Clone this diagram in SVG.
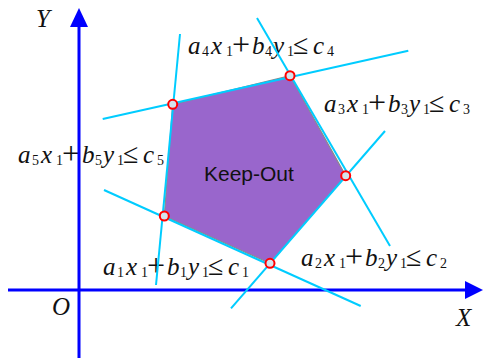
<svg xmlns="http://www.w3.org/2000/svg" width="483" height="358" viewBox="0 0 483 358">
<style>
.m{font-family:"Liberation Serif","Times New Roman",serif;font-size:25px;font-style:italic;fill:#111}
.s{font-style:normal;font-size:14px}
.p{font-style:normal;font-size:32px}
.le{font-style:normal;font-size:28px}
.ax{font-family:"Liberation Serif","Times New Roman",serif;font-size:25px;font-style:italic;fill:#111}
.cy{stroke:#00ccff;stroke-width:2;fill:none;stroke-linecap:butt}
.axis{stroke:#0000ff;stroke-width:3;fill:none}
.arw{fill:#0000ff}
.v{fill:#d4e2ec;stroke:#ff0000;stroke-width:2}
</style>
<rect width="483" height="358" fill="#ffffff"/>
<g id="labels">
<g id="label4" transform="translate(188,54)">
<text class="m"><tspan x="0" y="0">a</tspan><tspan class="s" x="14" y="2">4</tspan><tspan x="23" y="0">x</tspan><tspan class="s" x="38" y="2">1</tspan><tspan class="p" x="44" y="1">+</tspan><tspan x="64" y="0">b</tspan><tspan class="s" x="77" y="2">4</tspan><tspan x="85" y="0">y</tspan><tspan class="s" x="99" y="2">1</tspan><tspan class="le" x="105" y="0">≤</tspan><tspan x="125" y="0">c</tspan><tspan class="s" x="139" y="2">4</tspan></text>
</g>
<g id="label3" transform="translate(324,112)">
<text class="m"><tspan x="0" y="0">a</tspan><tspan class="s" x="14" y="2">3</tspan><tspan x="23" y="0">x</tspan><tspan class="s" x="38" y="2">1</tspan><tspan class="p" x="44" y="1">+</tspan><tspan x="64" y="0">b</tspan><tspan class="s" x="77" y="2">3</tspan><tspan x="85" y="0">y</tspan><tspan class="s" x="99" y="2">1</tspan><tspan class="le" x="105" y="0">≤</tspan><tspan x="125" y="0">c</tspan><tspan class="s" x="139" y="2">3</tspan></text>
</g>
<g id="label5" transform="translate(18,163)">
<text class="m"><tspan x="0" y="0">a</tspan><tspan class="s" x="14" y="2">5</tspan><tspan x="23" y="0">x</tspan><tspan class="s" x="38" y="2">1</tspan><tspan class="p" x="44" y="1">+</tspan><tspan x="64" y="0">b</tspan><tspan class="s" x="77" y="2">5</tspan><tspan x="85" y="0">y</tspan><tspan class="s" x="99" y="2">1</tspan><tspan class="le" x="105" y="0">≤</tspan><tspan x="125" y="0">c</tspan><tspan class="s" x="139" y="2">5</tspan></text>
</g>
<g id="label1" transform="translate(103,275)">
<text class="m"><tspan x="0" y="0">a</tspan><tspan class="s" x="14" y="2">1</tspan><tspan x="23" y="0">x</tspan><tspan class="s" x="38" y="2">1</tspan><tspan class="p" x="44" y="1">+</tspan><tspan x="64" y="0">b</tspan><tspan class="s" x="77" y="2">1</tspan><tspan x="85" y="0">y</tspan><tspan class="s" x="99" y="2">1</tspan><tspan class="le" x="105" y="0">≤</tspan><tspan x="125" y="0">c</tspan><tspan class="s" x="139" y="2">1</tspan></text>
</g>
<g id="label2" transform="translate(301,266)">
<text class="m"><tspan x="0" y="0">a</tspan><tspan class="s" x="14" y="2">2</tspan><tspan x="23" y="0">x</tspan><tspan class="s" x="38" y="2">1</tspan><tspan class="p" x="44" y="1">+</tspan><tspan x="64" y="0">b</tspan><tspan class="s" x="77" y="2">2</tspan><tspan x="85" y="0">y</tspan><tspan class="s" x="99" y="2">1</tspan><tspan class="le" x="105" y="0">≤</tspan><tspan x="125" y="0">c</tspan><tspan class="s" x="139" y="2">2</tspan></text>
</g>
</g>
<g id="keepout">
<polygon points="172.7,104.3 290,75.7 345.7,175.7 270,263.3 164.3,216" fill="#9966cc" stroke="#8a8a8a" stroke-width="1.2"/>
</g>
<g id="connectors">
<line class="axis" x1="79" y1="358" x2="79" y2="25"/>
<polygon class="arw" points="70,27 88,27 79,8"/>
<line class="axis" x1="8" y1="290" x2="467" y2="290"/>
<polygon class="arw" points="465,281 465,299 483,290"/>
<line class="cy" x1="102.7" y1="119" x2="408.3" y2="50.7"/>
<line class="cy" x1="180" y1="34" x2="156" y2="285"/>
<line class="cy" x1="257" y1="18" x2="390" y2="246"/>
<line class="cy" x1="385" y1="131" x2="231" y2="308.3"/>
<line class="cy" x1="104" y1="190" x2="360.7" y2="306"/>
</g>
<g id="keepout-label">
<text x="204" y="181" font-family="Liberation Sans, Arial, sans-serif" font-size="21" fill="#111">Keep-Out</text>
</g>
<g id="vertices">
<circle class="v" cx="172.7" cy="104.3" r="4.5"/>
<circle class="v" cx="290" cy="75.7" r="4.5"/>
<circle class="v" cx="345.7" cy="175.7" r="4.5"/>
<circle class="v" cx="270" cy="263.3" r="4.5"/>
<circle class="v" cx="164.3" cy="216" r="4.5"/>
</g>
<g id="axis-labels">
<text class="ax" x="36" y="27">Y</text>
<text class="ax" x="52" y="315" font-size="23">O</text>
<text class="ax" x="456" y="326">X</text>
</g>
</svg>
